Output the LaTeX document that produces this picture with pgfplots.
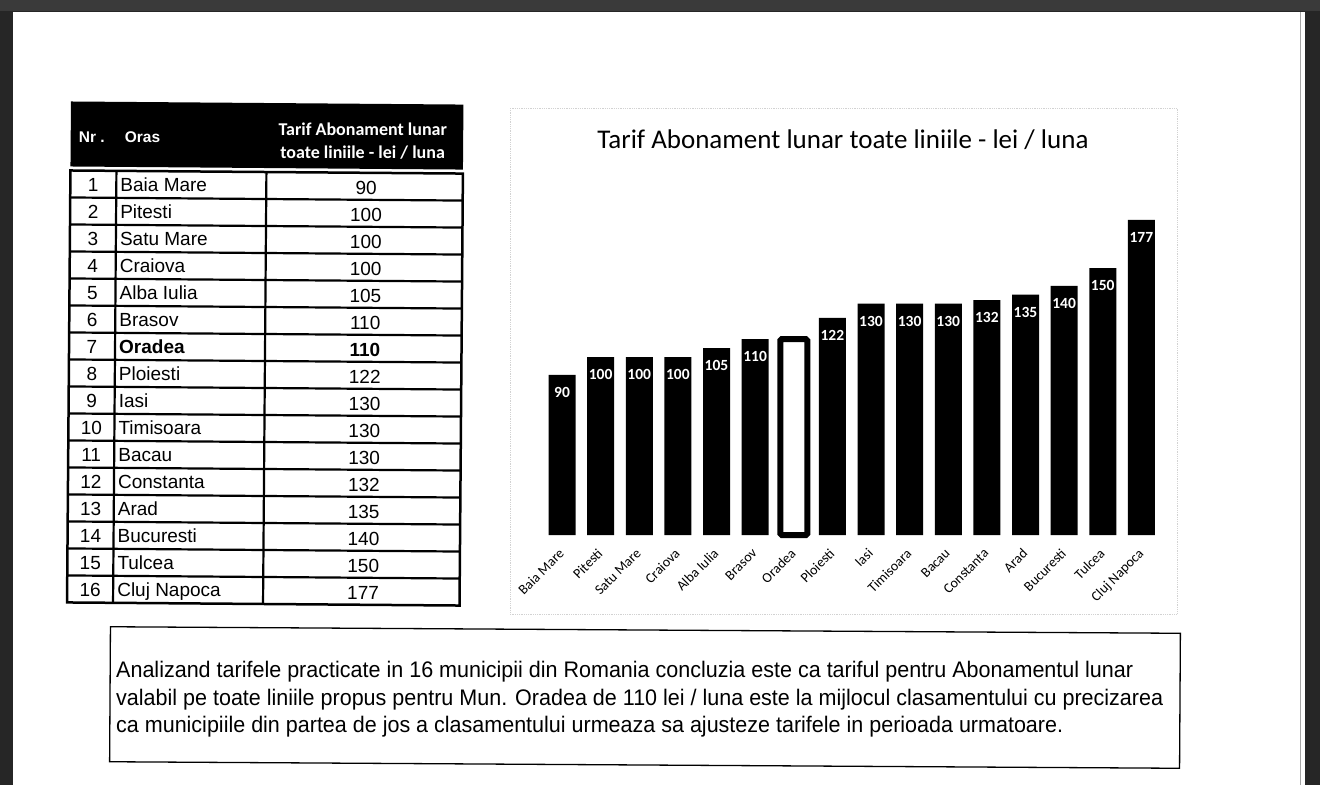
\documentclass[border=0pt]{standalone}
\usepackage{fontspec}
\usepackage{graphicx}
\usepackage{pgfplots}
\pgfplotsset{compat=1.18}
\setmainfont{Liberation Sans}
\newfontfamily\carlito{Carlito}
\definecolor{bgdark}{RGB}{38,38,38}
\definecolor{bgtop}{RGB}{58,58,58}
\begin{document}
\begin{tikzpicture}[x=1pt,y=1pt]
\path[use as bounding box] (0,0) rectangle (1320,-785);
\fill[bgdark] (0,0) rectangle (1320,-785);
\fill[bgtop] (0,0) rectangle (1320,-11);
\fill[white] (13,-12) rectangle (1305,-785);
\draw[gray!70, line width=1.5pt] (1300.5,-12) -- (1300.5,-785);

% ---------------- table ----------------
\begin{scope}[rotate around={-0.45:(265,-353)}]
\fill[black] (69,-103) rectangle (461.5,-168);
\node[anchor=base west, inner sep=0pt, text=white, font=\bfseries\fontsize{15.5}{16}\selectfont] at (77,-143.5) {Nr .};
\node[anchor=base west, inner sep=0pt, text=white, font=\bfseries\fontsize{15.5}{16}\selectfont] at (123,-143.5) {Oras};
\node[text=white, font=\carlito\bfseries\fontsize{18}{19}\selectfont] at (361,-128) {Tarif Abonament lunar};
\node[text=white, font=\carlito\bfseries\fontsize{18}{19}\selectfont] at (361,-152) {toate liniile - lei / luna};
\foreach \i in {1,...,15} \draw[line width=2.2pt] (69,{-172-27*\i}) -- (461.5,{-172-27*\i});
\draw[line width=2.2pt] (115,-172) -- (115,-604);
\draw[line width=2.2pt] (265,-172) -- (265,-604);
\draw[line width=2.5pt] (69,-172) rectangle (461.5,-604);
\foreach \n/\c/\v/\f in {1/Baia Mare/90/\mdseries, 2/Pitesti/100/\mdseries, 3/Satu Mare/100/\mdseries,
  4/Craiova/100/\mdseries, 5/Alba Iulia/105/\mdseries, 6/Brasov/110/\mdseries, 7/Oradea/110/\bfseries,
  8/Ploiesti/122/\mdseries, 9/Iasi/130/\mdseries, 10/Timisoara/130/\mdseries, 11/Bacau/130/\mdseries,
  12/Constanta/132/\mdseries, 13/Arad/135/\mdseries, 14/Bucuresti/140/\mdseries, 15/Tulcea/150/\mdseries,
  16/Cluj Napoca/177/\mdseries}{
  \node[font=\fontsize{19}{20}\selectfont, inner sep=0pt, anchor=base] at (92,{-192.5-27*(\n-1)}) {\n};
  \node[font=\fontsize{19}{20}\selectfont, anchor=base west, inner sep=0pt] at (119,{-192.5-27*(\n-1)}) {\f\c};
  \node[font=\fontsize{19}{20}\selectfont, inner sep=0pt, anchor=base] at (365,{-193.5-27*(\n-1)}) {\f\v};
}
\end{scope}

% ---------------- chart ----------------
\draw[gray!35, densely dotted, line width=0.8pt] (510,-108) rectangle (1177,-614);
\node[font=\carlito\fontsize{27}{28}\selectfont] at (843,-140) {Tarif Abonament lunar toate liniile - lei / luna};
\begin{axis}[at={(542.7pt,-535pt)}, anchor=south west, scale only axis,
  width=618pt, height=356pt, xmin=-0.5, xmax=15.5, ymin=0, ymax=200,
  ybar, bar width=27pt, bar shift=0pt,
  axis line style={draw=none}, ytick=\empty, xtick={0,...,15},
  xticklabels={Baia Mare,Pitesti,Satu Mare,Craiova,Alba Iulia,Brasov,Oradea,Ploiesti,Iasi,Timisoara,Bacau,Constanta,Arad,Bucuresti,Tulcea,Cluj Napoca},
  major tick length=0pt,
  xticklabel style={font=\carlito\fontsize{14}{14}\selectfont, inner sep=0pt, xshift=-4pt, yshift=-12.5pt, rotate=45, anchor=north east},
  clip=false, /pgf/number format/assume math mode=true]
\addplot[fill=black, draw=none, nodes near coords,
  every node near coord/.append style={text=white, font=\carlito\bfseries\fontsize{15.5}{16}\selectfont, anchor=center, yshift=-17.5pt}]
  coordinates {(0,90) (1,100) (2,100) (3,100) (4,105) (5,110) (7,122) (8,130) (9,130) (10,130) (11,132) (12,135) (13,140) (14,150) (15,177)};
\addplot[fill=white, draw=black, line width=6pt, rounded corners=1.5pt] coordinates {(6,110)};
\end{axis}

% ---------------- text box ----------------
\begin{scope}[rotate around={-0.35:(645,-697.5)}]
\draw[line width=1.3pt] (110,-630) rectangle (1180,-765);
\end{scope}
\node[anchor=base west, inner sep=0pt] at (116,-677) {\resizebox{1017pt}{\height}{\fontsize{22.5}{23}\selectfont Analizand tarifele practicate in 16 municipii din Romania concluzia este ca tariful pentru Abonamentul lunar}};
\node[anchor=base west, inner sep=0pt] at (116,-705) {\resizebox{1047pt}{\height}{\fontsize{22.5}{23}\selectfont valabil pe toate liniile propus pentru Mun. Oradea de 110 lei / luna este la mijlocul clasamentului cu precizarea}};
\node[anchor=base west, inner sep=0pt] at (116,-732) {\resizebox{947pt}{\height}{\fontsize{22.5}{23}\selectfont ca municipiile din partea de jos a clasamentului urmeaza sa ajusteze tarifele in perioada urmatoare.}};
\end{tikzpicture}
\end{document}
